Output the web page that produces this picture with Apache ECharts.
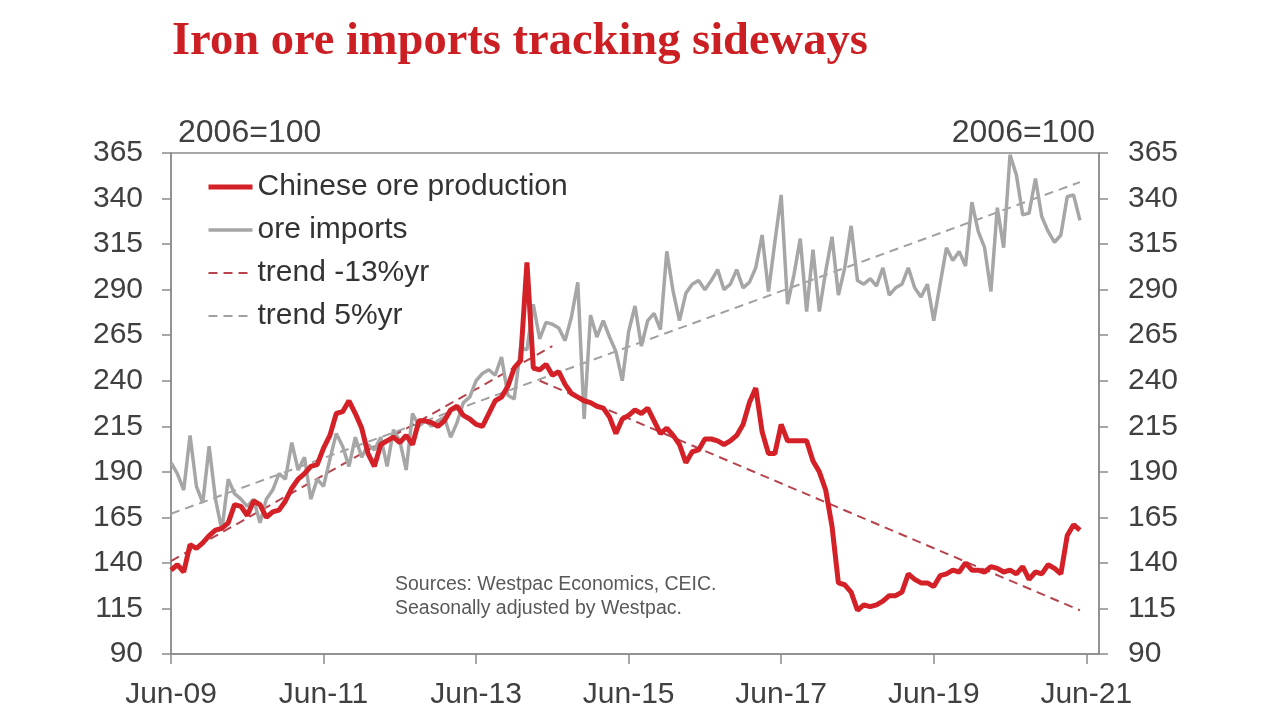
<!DOCTYPE html>
<html>
<head>
<meta charset="utf-8">
<script src="https://cdn.jsdelivr.net/npm/echarts@6/dist/echarts.min.js"></script>
<style>
html,body{margin:0;padding:0;background:#fff;}
#chart{width:1280px;height:720px;}
</style>
</head>
<body>
<div id="chart"></div>
<script>
// ---- Data (monthly, starting Jun-09) ----
const monthNames = ['Jan','Feb','Mar','Apr','May','Jun','Jul','Aug','Sep','Oct','Nov','Dec'];
const startYear = 2009, startMonth = 5, monthCount = 147; // Jun-09 .. Aug-21

const chineseOreProduction = [
  136,139,135,150,148,151,155,158,159,162,172,171,
  166,174,172,165,168,169,174,181,186,189,193,194,
  203,210,222,223,229,222,214,200,193,205,207,209,
  206,210,205,218,218,217,215,218,224,226,221,219,
  216,215,222,229,231,237,247,251,305,247,246,249,
  243,245,238,233,231,229,228,226,225,220,211,219,
  221,224,222,225,218,211,214,210,205,195,201,202,
  208,208,207,205,207,210,216,228,236,212,200,200,
  216,207,207,207,207,196,190,180,160,129,128,124,
  114,117,116,117,119,122,122,124,134,131,129,129,
  127,133,134,136,135,140,136,136,135,138,137,135,
  136,134,138,131,135,134,139,137,134,155,161,158
];

const oreImports = [
  195,189,180,210,182,173,204,175,158,186,178,175,
  171,175,162,175,180,189,186,206,191,198,175,186,
  182,197,211,204,193,209,198,205,202,209,193,213,
  207,191,222,215,218,215,218,220,209,217,228,231,
  240,244,246,243,253,232,230,258,257,282,263,272,
  271,269,262,275,294,219,276,264,273,264,256,240,
  267,281,259,273,277,268,311,289,273,288,293,295,
  290,295,301,290,293,301,291,294,302,320,289,316,
  342,282,298,318,278,312,278,300,319,287,302,325,
  295,293,296,292,302,287,291,293,302,291,286,293,
  273,293,313,306,311,303,338,322,313,289,335,313,
  364,353,331,332,351,330,322,316,320,341,342,328
];

const trendProdUp   = [['Jun-09', 141], ['Jun-14', 259]];
const trendProdDown = [['Apr-14', 240], ['May-21', 114]];
const trendImports  = [['Jun-09', 167], ['May-21', 349]];

const yTicks = [90,115,140,165,190,215,240,265,290,315,340,365];
const xTickLabels = ['Jun-09','Jun-11','Jun-13','Jun-15','Jun-17','Jun-19','Jun-21'];

// ---- Build categories ----
const categories = [];
for (let i = 0; i < monthCount; i++) {
  const t = startMonth + i;
  const y = startYear + Math.floor(t / 12);
  const m = t % 12;
  categories.push(monthNames[m] + '-' + String(y % 100).padStart(2, '0'));
}
const showX = (i, v) => xTickLabels.indexOf(categories[i]) >= 0;

const FONT = 'Liberation Sans, Arial, sans-serif';
const AXIS_COLOR = '#8c8c8c';
const TEXT_COLOR = '#404040';
const RED = '#d42027';
const GREY = '#a6a6a6';
const RED_TREND = '#b5444e';
const GREY_TREND = '#a0a0a0';

function yAxisDef(pos) {
  return {
    type: 'value', position: pos, min: 90, max: 365,
    name: '2006=100',
    nameLocation: 'end',
    nameGap: 4,
    nameTextStyle: {
      fontFamily: FONT, fontSize: 32, color: TEXT_COLOR,
      align: pos === 'left' ? 'left' : 'right',
      verticalAlign: 'bottom',
      padding: pos === 'left' ? [0, 0, 0, 7] : [0, 4, 0, 0]
    },
    axisLine: { show: true, lineStyle: { color: AXIS_COLOR, width: 1.5 } },
    axisTick: { show: true, inside: false, length: 9, customValues: yTicks, lineStyle: { color: AXIS_COLOR, width: 1.5 } },
    axisLabel: { customValues: yTicks, margin: pos === 'left' ? 28 : 29, fontFamily: FONT, fontSize: 30, color: TEXT_COLOR },
    splitLine: { show: false }
  };
}

const chart = echarts.init(document.getElementById('chart'), null, { renderer: 'canvas' });
chart.setOption({
  animation: false,
  backgroundColor: '#ffffff',
  title: {
    text: 'Iron ore imports tracking sideways',
    left: 167, top: 13,
    textStyle: { fontFamily: 'Liberation Serif, Times New Roman, serif', fontWeight: 'bold', fontSize: 46.5, color: '#cc1f24' }
  },
  grid: {
    left: 171, right: 181, top: 153, bottom: 66,
    show: true, borderColor: AXIS_COLOR, borderWidth: 1.5, backgroundColor: 'transparent'
  },
  legend: {
    data: ['Chinese ore production', 'ore imports', 'trend -13%yr', 'trend 5%yr'],
    orient: 'vertical', left: 206, top: 172, padding: 0,
    itemWidth: 44, itemHeight: 14, itemGap: 13,
    itemStyle: { opacity: 0 },
    lineStyle: { width: 'inherit' },
    textStyle: { fontFamily: FONT, fontSize: 30, lineHeight: 30, color: '#333333' }
  },
  xAxis: {
    type: 'category', data: categories, boundaryGap: false,
    axisLine: { show: true, lineStyle: { color: AXIS_COLOR, width: 1.5 } },
    axisTick: { show: true, length: 10, interval: showX, lineStyle: { color: AXIS_COLOR, width: 1.5 } },
    axisLabel: { interval: showX, margin: 26, fontFamily: FONT, fontSize: 30, color: TEXT_COLOR, hideOverlap: false },
    splitLine: { show: false }
  },
  yAxis: [yAxisDef('left'), yAxisDef('right')],
  graphic: [{
    type: 'text', left: 395, top: 573,
    style: {
      text: 'Sources: Westpac Economics, CEIC.\nSeasonally adjusted by Westpac.',
      font: '19.5px Liberation Sans, Arial, sans-serif', fill: '#595959', lineHeight: 24
    }
  }],
  series: [
    { name: 'trend 5%yr', type: 'line', data: trendImports, symbol: 'none', z: 2,
      lineStyle: { color: GREY_TREND, width: 2, type: [9, 6] }, itemStyle: { color: GREY_TREND } },
    { name: 'trend -13%yr', type: 'line', data: trendProdUp, symbol: 'none', z: 2,
      lineStyle: { color: RED_TREND, width: 2, type: [9, 6] }, itemStyle: { color: RED_TREND } },
    { name: 'trend -13%yr', type: 'line', data: trendProdDown, symbol: 'none', z: 2,
      lineStyle: { color: RED_TREND, width: 2, type: [9, 6] }, itemStyle: { color: RED_TREND } },
    { name: 'ore imports', type: 'line', data: oreImports, symbol: 'none', z: 3,
      lineStyle: { color: GREY, width: 3.5 }, itemStyle: { color: GREY } },
    { name: 'Chinese ore production', type: 'line', data: chineseOreProduction, symbol: 'none', z: 4,
      lineStyle: { color: RED, width: 5 }, itemStyle: { color: RED } }
  ]
});
</script>
</body>
</html>
